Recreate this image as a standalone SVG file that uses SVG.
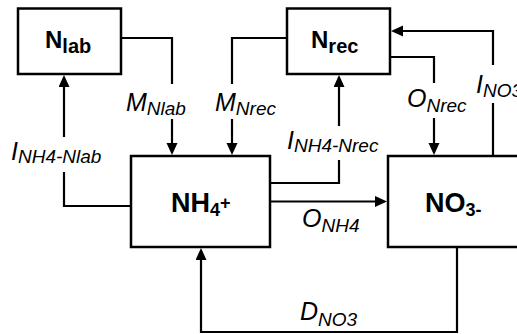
<svg xmlns="http://www.w3.org/2000/svg" width="517" height="334" viewBox="0 0 517 334">
<style>
.box{fill:#fff;stroke:#000;stroke-width:2.5}
.ln{fill:none;stroke:#000;stroke-width:2.2}
.arr{marker-end:url(#ah)}
.nd{font-family:"Liberation Sans",Arial,sans-serif;font-weight:bold;fill:#000}
.lb{font-family:"Liberation Sans",Arial,sans-serif;font-style:italic;font-size:25px;fill:#000}
.sb{font-size:19px}
</style>
<defs>
<marker id="ah" markerUnits="userSpaceOnUse" markerWidth="13" markerHeight="12" refX="9" refY="5.5" orient="auto">
<path d="M0,0 L12,5.5 L0,11 z" fill="#000"/>
</marker>
</defs>
<rect width="517" height="334" fill="#fff"/>
<g id="connectors">
<path class="ln" d="M121,38 H172 V84"/>
<path class="ln arr" d="M172,119 V152"/>
<path class="ln" d="M287,38 H232 V84"/>
<path class="ln arr" d="M232,119 V152"/>
<path class="ln arr" d="M64,137 V78"/>
<path class="ln" d="M64,172 V206 H131"/>
<path class="ln arr" d="M339,126 V78"/>
<path class="ln" d="M339,160 V183 H270"/>
<path class="ln arr" d="M270,201.5 H384"/>
<path class="ln" d="M390,57 H434 V83"/>
<path class="ln arr" d="M434,118 V152"/>
<path class="ln" d="M493,156 V103"/>
<path class="ln arr" d="M493,65 V31 H394"/>
<path class="ln arr" d="M457,247 V332 H201 V251"/>
</g>
<g id="n-lab">
<rect class="box" x="18" y="8.5" width="103" height="65.5"/>
<text class="nd" x="45" y="48" font-size="24">N<tspan font-size="20" dy="5">lab</tspan></text>
</g>
<g id="n-rec">
<rect class="box" x="287" y="8.5" width="103" height="65.5"/>
<text class="nd" x="311" y="48" font-size="24">N<tspan font-size="20" dy="5">rec</tspan></text>
</g>
<g id="nh4">
<rect class="box" x="131" y="156" width="139" height="91"/>
<text class="nd" x="171" y="212.3" font-size="27">NH<tspan font-size="18" dy="4">4</tspan><tspan font-size="18" dy="-7">+</tspan></text>
</g>
<g id="no3">
<rect class="box" x="388" y="156" width="140" height="91"/>
<text class="nd" x="425" y="212.3" font-size="27">NO<tspan font-size="18" dy="4">3-</tspan></text>
</g>
<g id="labels">
<text class="lb" x="126" y="111">M<tspan class="sb" dy="4">Nlab</tspan></text>
<text class="lb" x="215" y="111">M<tspan class="sb" dy="4">Nrec</tspan></text>
<text class="lb" x="11" y="160">I<tspan class="sb" dy="3">NH4-Nlab</tspan></text>
<text class="lb" x="287" y="149">I<tspan class="sb" dy="3">NH4-Nrec</tspan></text>
<text class="lb" x="407" y="107">O<tspan class="sb" dy="5">Nrec</tspan></text>
<text class="lb" x="476" y="93">I<tspan class="sb" dy="4">NO3</tspan></text>
<text class="lb" x="302" y="227">O<tspan class="sb" dy="5">NH4</tspan></text>
<text class="lb" x="300" y="320">D<tspan class="sb" dy="6">NO3</tspan></text>
</g>
</svg>
